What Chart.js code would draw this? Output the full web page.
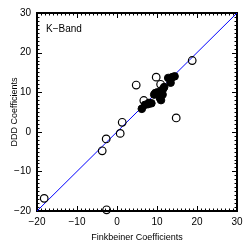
<!DOCTYPE html>
<html>
<head>
<meta charset="utf-8">
<script src="https://cdn.jsdelivr.net/npm/chart.js@4"></script>
<style>
  html, body { margin: 0; padding: 0; background: #fff; }
  #wrap { width: 249px; height: 249px; }
</style>
</head>
<body>
<div id="wrap"><canvas id="chartK"></canvas></div>
<script>
// --- data ---
const openX = [-18.2, -2.6, -3.7, -2.7, 0.8, 1.3, 4.8, 6.7, 9.8, 10.9, 14.8, 18.8];
const openY = [-16.8, -19.7, -4.8, -1.8, -0.4, 2.4, 11.8, 7.9, 13.8, 12.0, 3.5, 18.0];
const filledX = [6.2, 7.0, 7.8, 8.6, 8.0, 9.3, 9.6, 10.2, 10.8, 11.0, 10.7, 11.4, 11.5, 11.8, 12.8, 13.4, 13.8, 14.4];
const filledY = [5.8, 6.8, 7.0, 7.2, 7.3, 9.4, 9.8, 10.0, 9.7, 8.0, 8.6, 9.4, 10.8, 11.3, 13.6, 12.4, 13.8, 14.0];
const oneToOne = [-20, 30];
const axisMin = -20;
const axisMax = 30;
const majorStep = 10;
const bandLabel = 'K\u2212Band';
const xTitle = 'Finkbeiner Coefficients';
const yTitle = 'DDD Coefficients';

Chart.defaults.font.family = "'Liberation Sans', Arial, sans-serif";
Chart.defaults.color = '#000';

const minusSign = v => String(v).replace('-', '\u2212');

// box round the plot, with small inward ticks on all four sides
const frameTicks = {
    id: 'frameTicks',
    beforeDatasetsDraw(chart) {
        const ctx = chart.ctx, a = chart.chartArea;
        const xs = chart.scales.x, ys = chart.scales.y;
        ctx.save();
        ctx.strokeStyle = '#000';
        ctx.lineWidth = 1;
        ctx.beginPath();
        for (let v = axisMin; v <= axisMax; v++) {
            const len = v % majorStep === 0 ? 5 : 2.5;
            const px = Math.round(xs.getPixelForValue(v)) + 0.5;
            const py = Math.round(ys.getPixelForValue(v)) + 0.5;
            ctx.moveTo(px, a.bottom); ctx.lineTo(px, a.bottom - len);
            ctx.moveTo(px, a.top); ctx.lineTo(px, a.top + len);
            ctx.moveTo(a.left, py); ctx.lineTo(a.left + len, py);
            ctx.moveTo(a.right, py); ctx.lineTo(a.right - len, py);
        }
        ctx.stroke();
        ctx.lineWidth = 2;
        ctx.strokeRect(a.left, a.top, a.right - a.left, a.bottom - a.top);

        ctx.fillStyle = '#000';
        ctx.font = "10px 'Liberation Sans', Arial, sans-serif";
        ctx.textBaseline = 'middle';
        ctx.fillText(bandLabel, a.left + 9, a.top + 16);
        ctx.restore();
    }
};

const ctxK = document.getElementById('chartK');
new Chart(ctxK, {
    type: 'scatter',
    data: {
        datasets: [{
            label: 'open',
            data: openX.map((x, i) => ({ x, y: openY[i] })),
            pointRadius: 3.8,
            pointBorderWidth: 1.2,
            pointBorderColor: '#000',
            pointBackgroundColor: 'rgba(0,0,0,0)',
            clip: false,
            order: 1
        }, {
            label: 'filled',
            data: filledX.map((x, i) => ({ x, y: filledY[i] })),
            pointRadius: 3.8,
            pointBorderWidth: 1,
            pointBorderColor: '#000',
            pointBackgroundColor: '#000',
            clip: false,
            order: 1
        }, {
            type: 'line',
            label: '1:1',
            data: oneToOne.map(v => ({ x: v, y: v })),
            borderColor: '#0000ff',
            borderWidth: 1,
            pointRadius: 0,
            order: 3
        }]
    },
    options: {
        responsive: true,
        maintainAspectRatio: false,
        animation: false,
        layout: { padding: { top: 13, right: 12, left: 0, bottom: 0 } },
        plugins: { legend: { display: false }, tooltip: { enabled: false } },
        scales: {
            x: {
                type: 'linear', min: axisMin, max: axisMax,
                grid: { display: false, drawTicks: false },
                border: { display: false },
                ticks: { stepSize: majorStep, autoSkip: false, padding: 5, maxRotation: 0, font: { size: 10 }, callback: minusSign },
                title: { display: true, text: xTitle, font: { size: 9 }, padding: { top: 0, bottom: 6 } },
                afterFit: s => { s.height = 38; }
            },
            y: {
                type: 'linear', min: axisMin, max: axisMax,
                grid: { display: false, drawTicks: false },
                border: { display: false },
                ticks: { stepSize: majorStep, autoSkip: false, padding: 6, font: { size: 10 }, callback: minusSign },
                title: { display: true, text: yTitle, font: { size: 9 }, padding: { top: 9, bottom: 0 } },
                afterFit: s => { s.width = 37; }
            }
        }
    },
    plugins: [frameTicks]
});
</script>
</body>
</html>
